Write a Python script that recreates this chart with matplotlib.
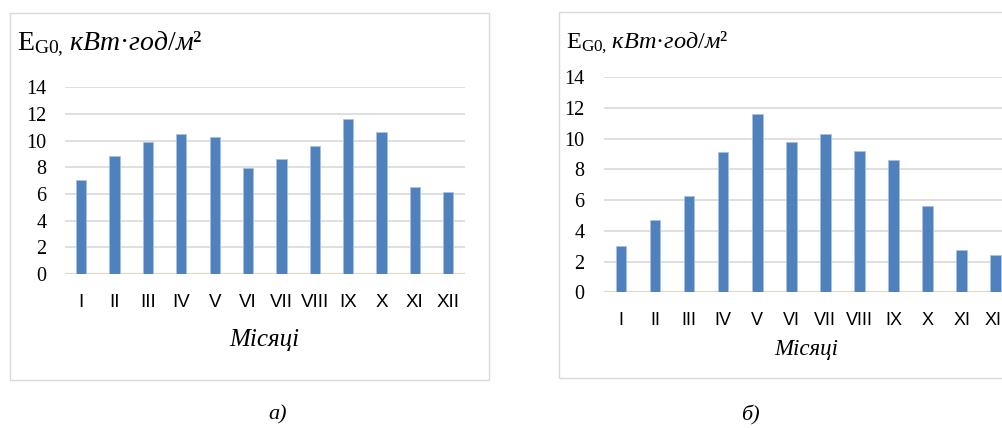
import matplotlib
matplotlib.use("Agg")
import matplotlib.pyplot as plt
from matplotlib.patches import Rectangle

plt.rcParams["mathtext.fontset"] = "custom"
plt.rcParams["mathtext.rm"] = "Liberation Serif"
plt.rcParams["mathtext.it"] = "Liberation Serif:italic"
plt.rcParams["mathtext.fallback"] = "stix"

MONTHS = ["I", "II", "III", "IV", "V", "VI", "VII", "VIII", "IX", "X", "XI", "XII"]
VALUES_A = [7.05, 8.85, 9.88, 10.5, 10.3, 7.98, 8.6, 9.6, 11.65, 10.63, 6.55, 6.18]
VALUES_B = [3.0, 4.74, 6.27, 9.13, 11.6, 9.76, 10.3, 9.2, 8.61, 5.62, 2.75, 2.42]
Y_TICKS = [0, 2, 4, 6, 8, 10, 12, 14]

TITLE = r"$\mathrm{E}_{\mathrm{G0,}}\,\mathit{кВт·год/м²}$"
XLABEL = "Місяці"

BAR = "#4f81bd"
GRID = "#d9d9d9"
BASE = "#ddd9c3"

W, H = 1003, 428


def fx(px):
    return px / W


def fy(py):
    return 1 - py / H


def panel(fig, rect, values, ytick_size, xtick_size, ypad, xpad):
    ax = fig.add_axes(rect)
    x = list(range(len(MONTHS)))
    ax.bar(x, values, width=0.31, color=BAR, edgecolor="#a9c1e0", linewidth=0.6, zorder=3)
    ax.set_xlim(-0.5, len(MONTHS) - 0.5)
    ax.set_ylim(0, 14)
    ax.set_yticks(Y_TICKS)
    ax.set_xticks(x)
    ax.set_xticklabels(MONTHS, family="Liberation Sans", fontsize=xtick_size)
    for lab in ax.get_yticklabels():
        lab.set_family("Liberation Serif")
        lab.set_fontsize(ytick_size)
    ax.tick_params(axis="both", length=0)
    ax.tick_params(axis="y", pad=ypad)
    ax.tick_params(axis="x", pad=xpad)
    ax.grid(axis="y", color=GRID, linewidth=1.2, zorder=0)
    for s in ax.spines.values():
        s.set_visible(False)
    ax.axhline(0, color=BASE, linewidth=1.6, zorder=2)
    ax.set_facecolor("none")
    return ax


fig = plt.figure(figsize=(W / 100, H / 100), dpi=100)

# frames
fig.patches.append(Rectangle((fx(10), fy(380)), fx(479), 367 / H, transform=fig.transFigure,
                             fill=False, edgecolor=GRID, linewidth=1))
fig.patches.append(Rectangle((fx(559), fy(378)), fx(480), 366 / H, transform=fig.transFigure,
                             fill=False, edgecolor=GRID, linewidth=1))

# panel a
panel(fig, [fx(64.5), fy(274), fx(400.5), (274 - 87.3) / H], VALUES_A, 14.5, 13.5, 13, 14.5)
fig.text(fx(17), fy(50), TITLE, fontsize=20, va="baseline", ha="left")
fig.text(fx(264), fy(340), XLABEL, family="Liberation Serif", style="italic",
         fontsize=18, ha="center", va="center")
fig.text(fx(278), fy(415), "а)", family="Liberation Serif", style="italic",
         fontsize=16, ha="center", va="center")

# panel b
panel(fig, [fx(604), fy(292.3), fx(408.7), (292.3 - 77.3) / H], VALUES_B, 14.5, 13, 14, 14)
fig.text(fx(566), fy(48), TITLE, fontsize=17.5, va="baseline", ha="left")
fig.text(fx(806), fy(350), XLABEL, family="Liberation Serif", style="italic",
         fontsize=16.5, ha="center", va="center")
fig.text(fx(750), fy(415), "б)", family="Liberation Serif", style="italic",
         fontsize=16, ha="center", va="center")

fig.savefig("out.png", dpi=100)
